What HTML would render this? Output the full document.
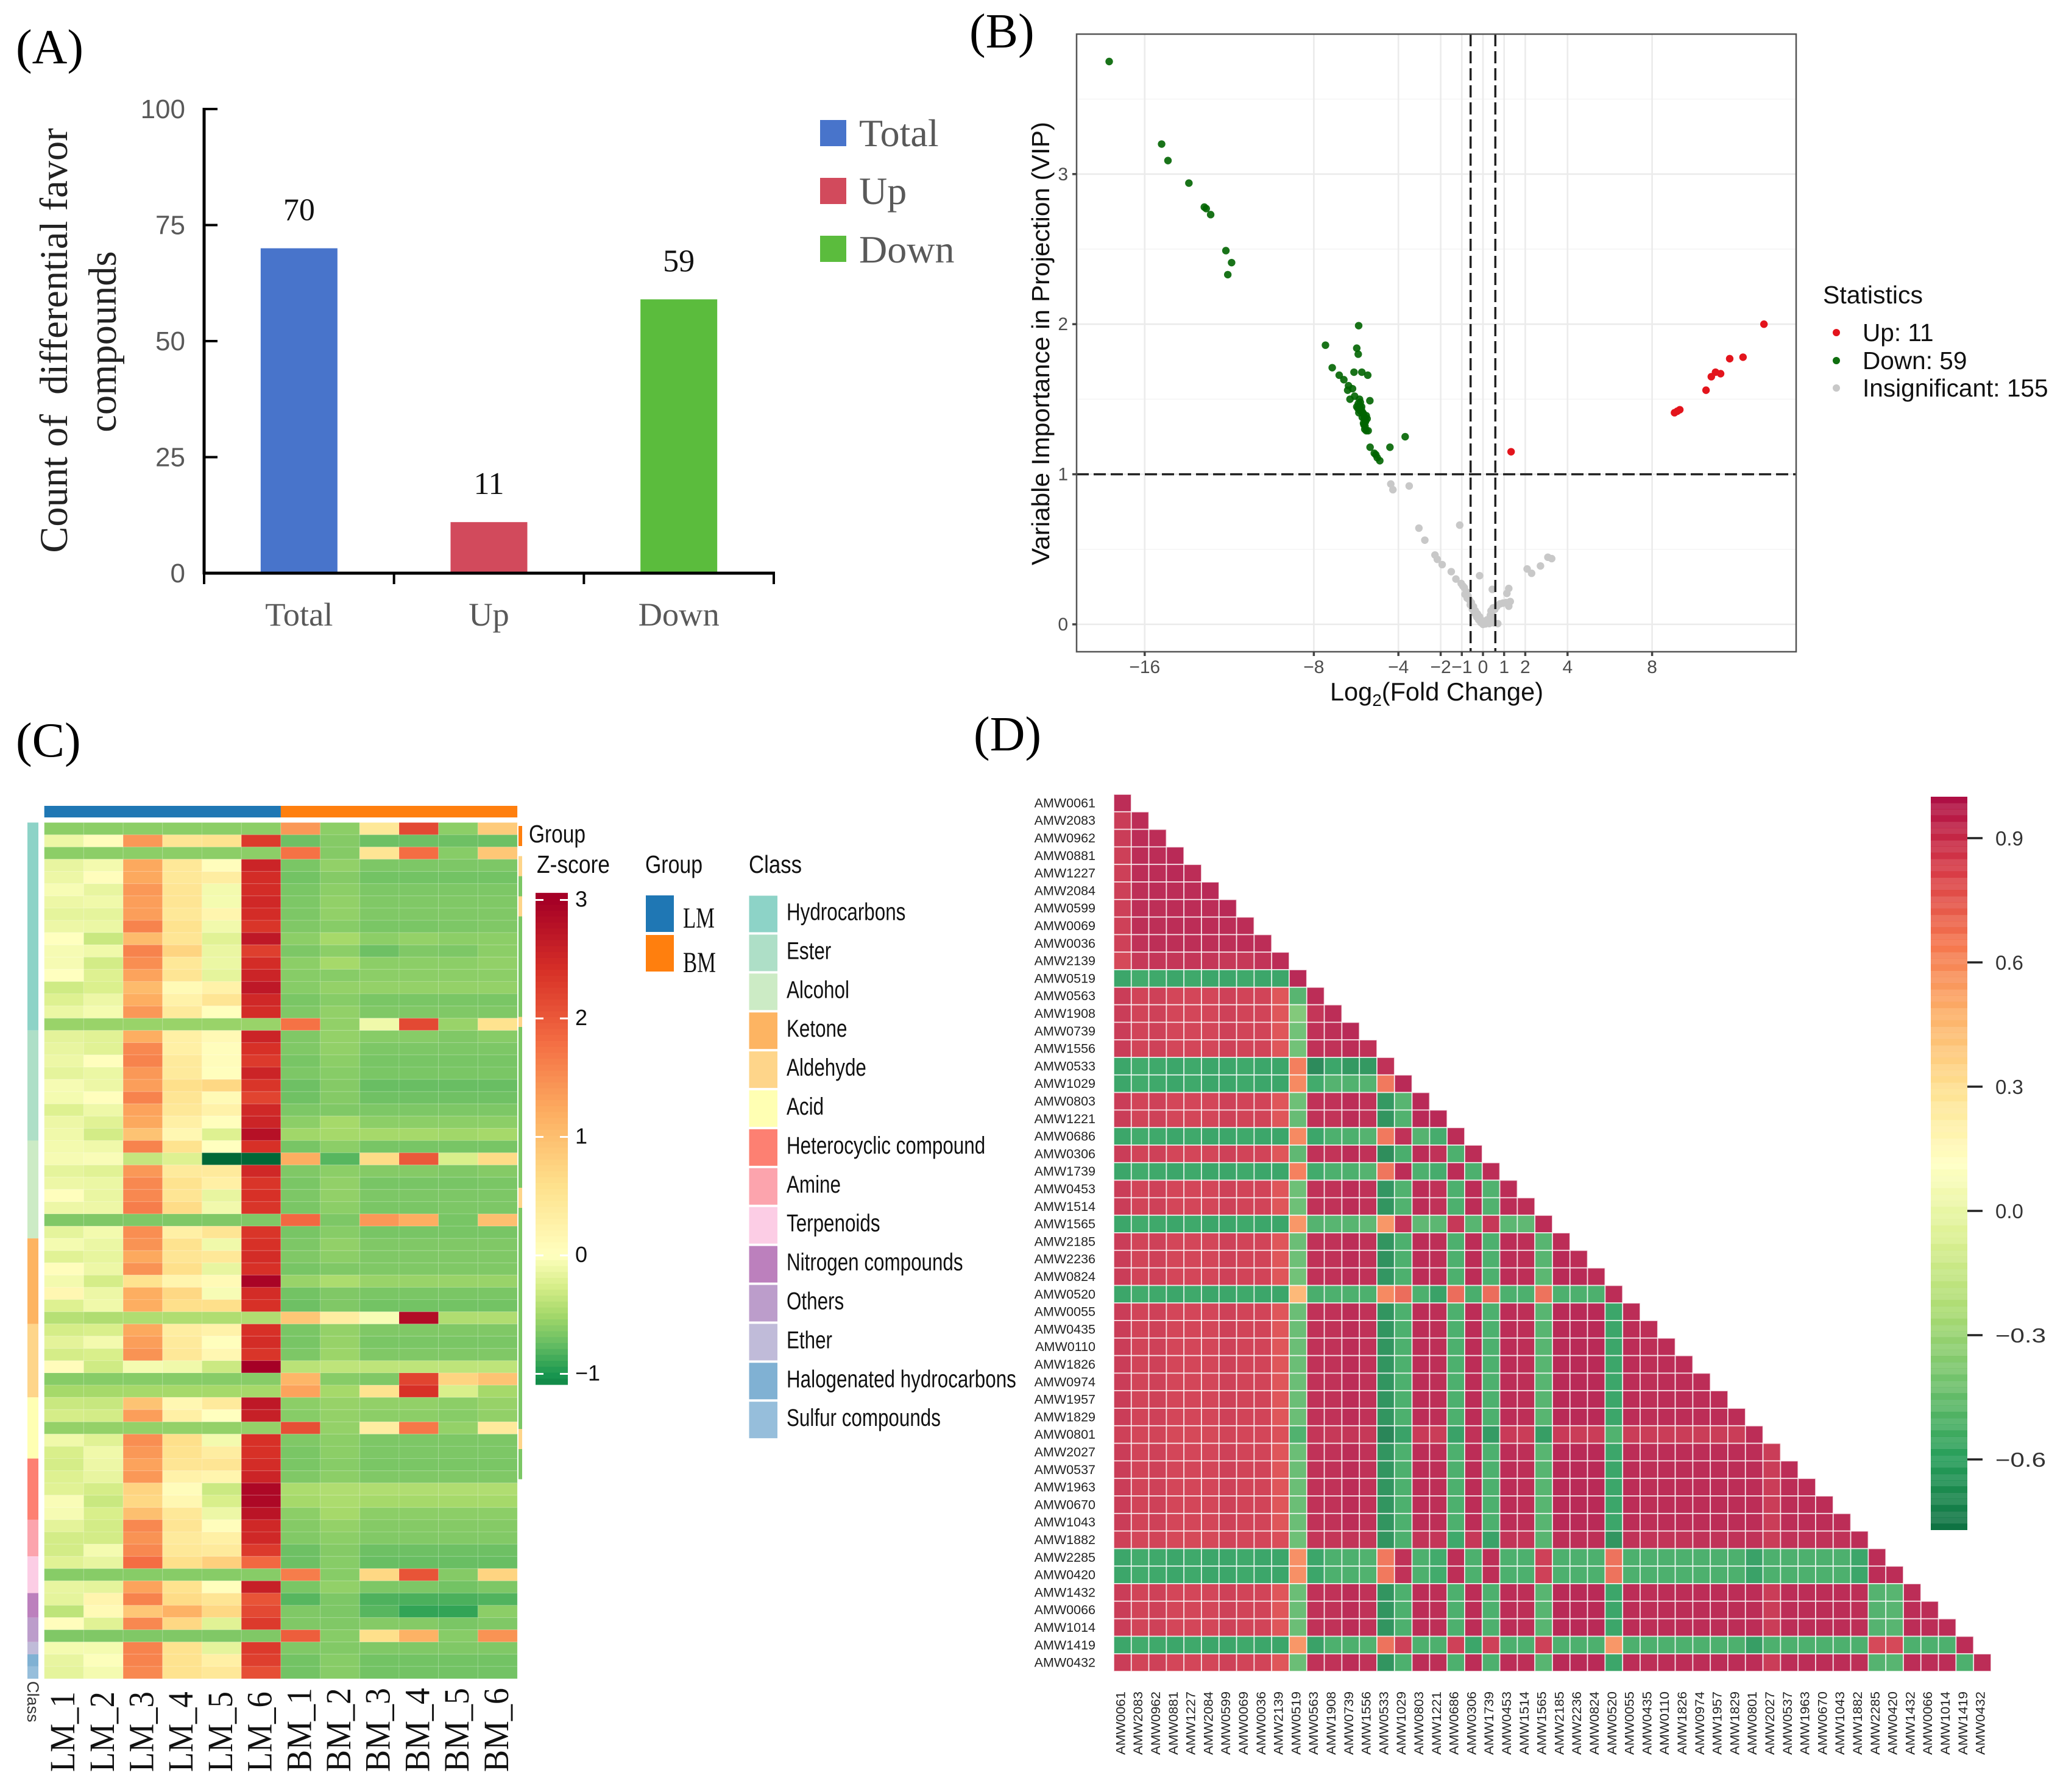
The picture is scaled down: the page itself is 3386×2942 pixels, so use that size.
<!DOCTYPE html>
<html lang="en">
<head>
<meta charset="utf-8">
<title>Differential favor compounds</title>
<style>
html,body{margin:0;padding:0;background:#fff;}
svg{display:block;}
text{font-family:"Liberation Sans",sans-serif;}
.serif{font-family:"Liberation Serif",serif;}
.panel-tag{font-family:"Liberation Serif",serif;font-size:80px;fill:#000;}
</style>
</head>
<body>
<svg id="root" xmlns="http://www.w3.org/2000/svg" width="3386" height="2942" viewBox="0 0 3386 2942">
<rect x="0" y="0" width="3386" height="2942" fill="#fff"/>
<text class="panel-tag" x="26" y="104">(A)</text>
<text class="panel-tag" x="1591" y="78">(B)</text>
<text class="panel-tag" x="26" y="1242">(C)</text>
<text class="panel-tag" x="1598" y="1232">(D)</text>

<g id="panelA">
<text class="serif" transform="translate(110,559) rotate(-90)" text-anchor="middle" font-size="64.5" fill="#222" style="white-space:pre">Count of  differential favor</text>
<text class="serif" transform="translate(190,561) rotate(-90)" text-anchor="middle" font-size="64.5" fill="#222">compounds</text>
<g>
<rect x="1346" y="197" width="43" height="43" fill="#4874cb"/>
<text class="serif" x="1410" y="240" font-size="64" fill="#595959">Total</text>
<rect x="1346" y="292" width="43" height="43" fill="#d24a5c"/>
<text class="serif" x="1410" y="335" font-size="64" fill="#595959">Up</text>
<rect x="1346" y="387" width="43" height="43" fill="#5bbc3d"/>
<text class="serif" x="1410" y="431" font-size="64" fill="#595959">Down</text>
</g>
</g>

<g id="panelB">
<text transform="translate(1722,564) rotate(-90)" text-anchor="middle" font-size="41" fill="#111" textLength="728" lengthAdjust="spacingAndGlyphs">Variable Importance in Projection (VIP)</text>
<text x="2358" y="1150" text-anchor="middle" font-size="41.5" fill="#111">Log<tspan font-size="28" dy="9">2</tspan><tspan dy="-9">(Fold Change)</tspan></text>
<g>
<text x="2992" y="498" font-size="41" fill="#111">Statistics</text>
<circle cx="3014" cy="546" r="6" fill="#e3141c"/>
<text x="3057" y="560" font-size="40.6" fill="#111">Up: 11</text>
<circle cx="3014" cy="592" r="6" fill="#0f6e0f"/>
<text x="3057" y="606" font-size="40.6" fill="#111">Down: 59</text>
<circle cx="3014" cy="637" r="6" fill="#c8c8c8"/>
<text x="3057" y="651" font-size="40.6" fill="#111">Insignificant: 155</text>
</g>
</g>

<g id="panelC">
<text x="868" y="1383" font-size="41" fill="#111" textLength="93" lengthAdjust="spacingAndGlyphs">Group</text>
<text x="881" y="1433" font-size="41" fill="#111" textLength="120" lengthAdjust="spacingAndGlyphs">Z-score</text>
<text x="1059" y="1433" font-size="41" fill="#111" textLength="94" lengthAdjust="spacingAndGlyphs">Group</text>
<text x="1229" y="1433" font-size="41" fill="#111" textLength="87" lengthAdjust="spacingAndGlyphs">Class</text>
<rect x="1060" y="1470" width="46" height="60" fill="#1f77b4"/>
<text class="serif" x="1121" y="1523" font-size="48" fill="#111" textLength="52" lengthAdjust="spacingAndGlyphs">LM</text>
<rect x="1060" y="1535" width="46" height="60" fill="#ff7f0e"/>
<text class="serif" x="1121" y="1596" font-size="48" fill="#111" textLength="54" lengthAdjust="spacingAndGlyphs">BM</text>
<text transform="translate(45,2760) rotate(90)" font-size="27" fill="#333">Class</text>
</g>

<g id="panelD"></g>
</svg>

<script>
// ---------- Panel A data ----------
const barCategories = ['Total', 'Up', 'Down'];
const barValues = [70, 11, 59];
const barTicks = [0, 25, 50, 75, 100];

// ---------- Panel B data: [log2FC, VIP] ----------
const downPoints = [[-17.68,3.75],[-15.2,3.2],[-14.9,3.09],[-13.91,2.94],[-13.18,2.78],[-13.09,2.77],[-12.88,2.73],[-12.16,2.49],[-11.89,2.41],[-12.07,2.33],[-5.88,1.99],[-7.45,1.86],[-5.97,1.84],[-5.9,1.8],[-7.13,1.71],[-6.8,1.66],[-6.58,1.63],[-6.1,1.68],[-5.73,1.68],[-5.45,1.66],[-6.36,1.59],[-6.17,1.57],[-6.4,1.56],[-6.07,1.52],[-6.29,1.5],[-5.35,1.49],[-5.84,1.5],[-5.9,1.47],[-5.82,1.46],[-5.97,1.45],[-5.74,1.45],[-5.78,1.42],[-5.87,1.41],[-5.65,1.4],[-5.52,1.39],[-5.71,1.38],[-5.61,1.37],[-5.48,1.37],[-5.65,1.34],[-5.56,1.35],[-5.52,1.29],[-5.43,1.29],[-5.59,1.3],[-5.34,1.18],[-4.4,1.18],[-3.68,1.25],[-5.14,1.14],[-5.07,1.13],[-5,1.11],[-4.88,1.09],[-5.8,1.48],[-5.75,1.43],[-5.68,1.41],[-5.6,1.38],[-5.55,1.36],[-5.63,1.33],[-5.58,1.32],[-5.92,1.44],[-5.85,1.43]];
const upPoints = [[1.33,1.15],[13.29,2.0],[12.3,1.78],[11.67,1.77],[11.24,1.67],[11.0,1.68],[10.8,1.65],[10.55,1.56],[9.31,1.43],[9.19,1.42],[9.06,1.41]];
const insignificantPoints = [[-4.36,0.935],[-4.26,0.897],[-3.49,0.922],[-3.03,0.641],[-2.75,0.561],[-1.1,0.661],[-2.27,0.462],[-2.16,0.433],[-1.93,0.398],[-1.5,0.351],[-1.28,0.302],[-1.03,0.272],[-0.16,0.324],[0.44,0.233],[1.22,0.239],[1.13,0.206],[1.29,0.152],[1.22,0.121],[2.09,0.369],[2.3,0.34],[2.72,0.389],[3.07,0.447],[3.25,0.438],[0.7,0.005],[-0.88,0.244],[-0.79,0.217],[-0.71,0.19],[-0.64,0.163],[-0.55,0.145],[-0.45,0.118],[-0.36,0.09],[-0.26,0.069],[-0.16,0.05],[-0.07,0.027],[0.03,0.009],[0.12,0.003],[0.22,0.014],[0.32,0.027],[0.41,0.072],[0.41,0.045],[0.56,0.1],[0.65,0.118],[0.8,0.136],[0.94,0.141],[1.09,0.145],[-0.95,0.255],[-0.85,0.2],[-0.75,0.175],[-0.6,0.13],[-0.5,0.1],[-0.4,0.075],[-0.3,0.05],[-0.2,0.03],[-0.1,0.012],[0.0,0.0],[0.1,0.02],[0.2,0.03],[0.3,0.005],[0.4,0.02],[0.5,0.01],[0.35,0.06],[0.38,0.09],[0.48,0.11]];
const volcanoXTicks = [-16, -8, -4, -2, -1, 0, 1, 2, 4, 8];
const volcanoYTicks = [0, 1, 2, 3];
const volcanoYMinor = [0.5, 1.5, 2.5, 3.5];
const fcThresholds = [-0.585, 0.585];
const vipThreshold = 1;

// ---------- Panel C data ----------
const sampleLabels = ['LM_1','LM_2','LM_3','LM_4','LM_5','LM_6','BM_1','BM_2','BM_3','BM_4','BM_5','BM_6'];
const zValues = [
[-.6,-.6,-.6,-.6,-.6,-.6,1.4,-.6,.45,2.15,-.6,.85],
[-.12,.05,1.4,.5,.55,2.3,-.72,-.63,-.72,-.72,-.72,-.72],
[-.6,-.6,-.6,-.6,-.6,-.6,1.75,-.63,.5,1.8,-.62,.9],
[-.15,-.08,1.25,.45,.03,2.55,-.67,-.58,-.66,-.66,-.66,-.66],
[-.12,.03,1.25,.45,.35,2.45,-.7,-.63,-.7,-.7,-.7,-.7],
[-.05,-.15,1.4,.5,-.08,2.45,-.67,-.6,-.66,-.66,-.66,-.66],
[-.12,-.1,1.35,.5,-.07,2.5,-.66,-.58,-.65,-.65,-.65,-.65],
[-.17,-.17,1.35,.45,.2,2.45,-.66,-.58,-.65,-.65,-.65,-.65],
[-.12,-.13,1.6,.55,-.09,2.35,-.65,-.62,-.67,-.67,-.66,-.65],
[0,-.33,1.05,.5,-.2,2.7,-.6,-.5,-.6,-.57,-.6,-.6],
[-.06,-.1,1.6,.75,-.14,2.25,-.66,-.6,-.72,-.65,-.66,-.6],
[-.06,-.28,1.5,.45,-.13,2.45,-.6,-.5,-.6,-.6,-.6,-.58],
[0,-.22,1.3,.5,-.17,2.55,-.62,-.62,-.6,-.6,-.6,-.6],
[-.3,-.24,1.05,.1,.25,2.7,-.62,-.57,-.57,-.57,-.57,-.57],
[-.22,-.12,1.2,.25,.5,2.5,-.67,-.62,-.67,-.67,-.67,-.67],
[-.13,-.07,1.4,.4,.02,2.45,-.65,-.58,-.65,-.65,-.65,-.65],
[-.55,-.55,-.55,-.55,-.55,-.55,1.75,-.58,-.1,2.15,-.55,.55],
[-.18,-.2,1.2,.3,.12,2.55,-.65,-.57,-.62,-.62,-.65,-.62],
[-.15,-.2,1.55,.3,.03,2.4,-.65,-.58,-.66,-.66,-.66,-.66],
[-.12,.02,1.6,.4,.05,2.3,-.68,-.6,-.68,-.68,-.68,-.68],
[-.17,-.13,1.4,.4,.02,2.55,-.66,-.62,-.67,-.67,-.67,-.67],
[-.06,-.12,1.35,.6,.7,2.35,-.72,-.63,-.74,-.74,-.74,-.74],
[-.07,.02,1.6,.5,.1,2.2,-.71,-.63,-.71,-.71,-.71,-.71],
[-.22,-.11,1.3,.45,.25,2.5,-.66,-.65,-.66,-.66,-.66,-.66],
[-.12,-.2,1.25,.3,.02,2.55,-.6,-.5,-.6,-.6,-.6,-.6],
[-.1,-.28,.95,.15,-.22,2.8,-.52,-.5,-.5,-.5,-.52,-.5],
[-.08,-.1,1.6,.55,0,2.4,-.68,-.6,-.68,-.68,-.68,-.68],
[-.06,-.04,-.35,-.22,-1.6,-1.6,1.2,-.8,.65,2,-.25,.65],
[-.17,-.2,1.4,.4,.4,2.5,-.65,-.6,-.63,-.63,-.65,-.63],
[-.12,-.13,1.55,.55,.3,2.35,-.67,-.58,-.68,-.68,-.68,-.67],
[.02,-.14,1.55,.5,-.15,2.4,-.66,-.58,-.66,-.66,-.66,-.66],
[-.12,-.12,1.65,.65,-.09,2.35,-.67,-.6,-.67,-.67,-.66,-.66],
[-.65,-.65,-.65,-.65,-.65,-.65,1.85,-.66,1.4,1.2,-.68,1],
[-.17,-.08,1.5,.3,.5,2.35,-.68,-.62,-.68,-.68,-.68,-.68],
[-.07,-.13,1.45,.55,-.1,2.4,-.66,-.58,-.65,-.65,-.65,-.65],
[-.2,-.16,1.25,.5,.45,2.45,-.65,-.6,-.65,-.65,-.65,-.65],
[.03,-.12,1.45,.6,-.15,2.4,-.68,-.65,-.65,-.65,-.65,-.65],
[-.08,-.27,.55,.2,.1,2.95,-.55,-.47,-.55,-.55,-.55,-.55],
[.15,-.12,1.2,.7,-.05,2.45,-.7,-.65,-.67,-.67,-.67,-.67],
[-.22,-.1,1.2,.6,.6,2.4,-.72,-.65,-.7,-.7,-.7,-.7],
[-.42,-.45,-.45,-.45,-.45,-.45,.9,.35,-.05,2.85,-.45,-.45],
[-.27,-.25,1.25,.35,.25,2.4,-.67,-.57,-.65,-.65,-.65,-.65],
[-.18,-.08,1.35,.4,.02,2.45,-.68,-.56,-.67,-.67,-.67,-.67],
[-.27,-.25,1.45,.45,.15,2.35,-.66,-.54,-.65,-.65,-.65,-.65],
[.05,-.3,-.07,-.1,-.32,3,-.4,-.38,-.38,-.38,-.38,-.38],
[-.62,-.62,-.62,-.62,-.62,-.62,1.1,-.62,-.65,2.2,.75,.95],
[-.5,-.5,-.5,-.5,-.5,-.5,1.3,-.5,.55,2.4,-.25,-.5],
[-.33,-.34,.95,.15,.4,2.7,-.6,-.56,-.58,-.58,-.6,-.56],
[-.27,-.28,1.35,.3,0,2.6,-.62,-.57,-.6,-.6,-.62,-.58],
[-.57,-.57,-.57,-.57,-.57,-.57,2.1,-.57,.35,1.7,-.57,.4],
[-.1,-.2,1.5,.6,-.08,2.4,-.65,-.6,-.66,-.66,-.66,-.66],
[-.25,-.1,1.4,.55,.35,2.4,-.67,-.6,-.66,-.66,-.66,-.66],
[-.27,-.12,1.3,.5,.5,2.45,-.67,-.62,-.67,-.67,-.67,-.67],
[-.22,-.15,1.4,.25,.2,2.55,-.65,-.6,-.65,-.65,-.65,-.65],
[-.2,-.27,.75,.05,-.32,2.9,-.47,-.45,-.45,-.45,-.45,-.45],
[-.04,-.33,.7,.15,-.25,2.9,-.5,-.47,-.5,-.5,-.5,-.5],
[-.06,-.25,1,.45,-.12,2.75,-.6,-.5,-.6,-.6,-.6,-.6],
[-.18,-.28,1.55,.5,.03,2.5,-.63,-.57,-.63,-.63,-.63,-.63],
[-.28,-.28,1.45,.4,.3,2.5,-.64,-.6,-.64,-.64,-.64,-.64],
[-.28,-.07,1.55,.45,.4,2.3,-.72,-.63,-.72,-.72,-.72,-.72],
[-.2,-.15,1.8,.6,.8,1.85,-.72,-.62,-.74,-.74,-.74,-.74],
[-.62,-.62,-.62,-.62,-.62,-.62,1.65,-.62,.7,2.05,-.63,.75],
[-.15,-.17,1.3,.55,.02,2.6,-.67,-.58,-.66,-.66,-.7,-.66],
[-.17,.2,1.6,.65,.5,2.05,-.8,-.66,-.83,-.84,-.84,-.82],
[-.38,.1,.9,1.15,.7,2.15,-.65,-.66,-.8,-.92,-.92,-.6],
[.03,-.2,1.55,.7,-.2,2.3,-.65,-.65,-.63,-.63,-.67,-.65],
[-.65,-.65,-.65,-.65,-.65,-.65,1.95,-.62,.6,1.15,-.62,1.45],
[-.07,-.07,1.6,.55,-.17,2.3,-.65,-.64,-.65,-.65,-.65,-.65],
[-.15,-.02,1.6,.55,.3,2.25,-.7,-.62,-.7,-.7,-.7,-.7],
[-.17,-.07,1.55,.55,.45,2.1,-.7,-.62,-.7,-.7,-.7,-.7]
];
const classNames = ['Hydrocarbons','Ester','Alcohol','Ketone','Aldehyde','Acid','Heterocyclic compound','Amine','Terpenoids','Nitrogen compounds','Others','Ether','Halogenated hydrocarbons','Sulfur compounds'];
const classRowCounts = [17,9,8,7,6,5,5,3,3,2,2,1,1,1];
const zTicks = [3,2,1,0,-1];
const stripCodes = [2,2,-1,1,1,0,0,1,1,0,0,0,0,0,0,0,0,0,0,1,0,0,0,0,0,0,0,0,0,0,0,0,0,0,0,0,1,1,0,0,0,0,0,0,0,0,0,0,0,0,0,0,0,0,0,0,0,0,0,0,1,1,0,0,0];

// ---------- Panel D data (correlation x100, lower triangle) ----------
const corrIds = ['AMW0061','AMW2083','AMW0962','AMW0881','AMW1227','AMW2084','AMW0599','AMW0069','AMW0036','AMW2139','AMW0519','AMW0563','AMW1908','AMW0739','AMW1556','AMW0533','AMW1029','AMW0803','AMW1221','AMW0686','AMW0306','AMW1739','AMW0453','AMW1514','AMW1565','AMW2185','AMW2236','AMW0824','AMW0520','AMW0055','AMW0435','AMW0110','AMW1826','AMW0974','AMW1957','AMW1829','AMW0801','AMW2027','AMW0537','AMW1963','AMW0670','AMW1043','AMW1882','AMW2285','AMW0420','AMW1432','AMW0066','AMW1014','AMW1419','AMW0432'];
const corrTicks = [0.9,0.6,0.3,0,-0.3,-0.6];
const corrProfileP = [90,87,88,86,86,86,88,87,87,80,-47,95,95,97,95,-68,-55,97,96,-55,97,-55,97,96,-52,98,98,98,-60,97,96,97,97,97,97,97,97,90,97,97,97,97,96,-53,-52,97,97,97,-55,97];
const corrProfileN = [-60,-58,-59,-60,-59,-60,-60,-59,-60,-60,60,-60,-55,-55,-54,68,95,-55,-58,96,-55,96,-55,-55,88,-55,-55,-55,70,-55,-55,-55,-55,-55,-55,-55,-62,-55,-55,-55,-55,-55,-60,97,97,-55,-55,-55,88,-55];
const corrRow0801 = [88,86,87,85,85,85,87,86,86,82,-54,93,92,93,92,-74,-62,91,90,-62,95,-65,91,90,-64,91,90,90,-54,90,90,90,90,90,90,90,97];
const corrRow1882 = [88,86,87,85,85,85,87,86,86,83,-46,93,93,94,93,-68,-55,94,93,-59,92,-62,94,93,-52,96,96,96,-68,95,94,94,94,95,95,95,95,90,95,95,95,95,97];
const corrRow1419 = [-60,-58,-59,-60,-59,-60,-60,-59,-60,-60,58,-62,-55,-55,-54,70,88,-55,-55,88,-60,88,-55,-55,88,-55,-55,-55,58,-55,-55,-55,-55,-55,-55,-55,-64,-55,-55,-55,-55,-55,-55,85,85,-55,-55,-55,97];
const corrUpper = [
[97],
[90,97],
[90,97,97],
[89,97,97,98],
[89,97,97,98,97],
[89,96,97,97,97,98],
[89,96,96,97,97,97,98],
[88,96,96,97,97,97,97,97],
[88,95,96,96,96,96,96,97,97],
[85,92,93,93,93,93,92,92,94,97],
[-60,-58,-59,-60,-59,-60,-60,-59,-60,-60,98],
[90,87,88,86,86,86,88,87,87,80,-52,97],
[90,87,88,86,86,86,88,87,87,80,-40,93,97],
[90,87,88,86,86,86,88,87,87,80,-45,95,96,98],
[90,87,88,86,86,86,88,87,87,80,-45,95,95,97,95],
[-60,-58,-59,-60,-59,-60,-60,-59,-60,-60,66,-72,-60,-66,-66,95],
[-60,-58,-59,-60,-59,-60,-60,-59,-60,-60,62,-58,-53,-54,-53,68,98],
[90,87,88,86,86,86,88,87,87,80,-46,95,95,97,95,-66,-52,98],
[90,87,88,86,86,86,88,87,87,80,-48,95,94,97,95,-68,-54,98,98],
[-60,-58,-59,-60,-59,-60,-60,-59,-60,-60,62,-60,-55,-55,-53,68,95,-53,-57,97],
[90,87,88,86,86,86,88,87,87,80,-50,95,94,97,95,-71,-56,97,95,-55,97],
[-60,-58,-59,-60,-59,-60,-60,-59,-60,-60,65,-58,-55,-55,-53,69,97,-55,-57,97,-55,97],
[90,87,88,86,86,86,88,87,87,80,-46,95,95,97,95,-67,-54,97,95,-55,97,-54,97],
[90,87,88,86,86,86,88,87,87,80,-46,95,95,97,95,-68,-54,97,95,-55,97,-54,97,96],
[-60,-58,-59,-60,-59,-60,-60,-59,-60,-60,58,-53,-52,-52,-50,58,93,-50,-51,92,-52,92,-51,-50,97],
[90,87,88,86,86,86,88,87,87,80,-47,95,95,97,95,-68,-55,97,96,-55,97,-55,97,96,-52,97],
[90,87,88,86,86,86,88,87,87,80,-46,95,95,97,95,-69,-55,97,96,-55,97,-55,97,96,-52,98,97],
[90,87,88,86,86,86,88,87,87,80,-45,95,95,97,95,-67,-55,97,96,-55,97,-55,97,96,-51,98,98,97],
[-60,-58,-59,-60,-59,-60,-60,-59,-60,-60,47,-56,-55,-55,-55,62,72,-55,-62,72,-56,72,-55,-55,70,-55,-55,-55,97]
];
const corrLowerSources = [corrProfileP,corrProfileP,corrProfileP,corrProfileP,corrProfileP,corrProfileP,corrProfileP,corrRow0801,corrProfileP,corrProfileP,corrProfileP,corrProfileP,corrProfileP,corrRow1882,corrProfileN,corrProfileN,corrProfileP,corrProfileP,corrProfileP,corrRow1419,corrProfileP];

// ---------- Colour definitions ----------
const barColors = ['#4874cb','#d24a5c','#5bbc3d'];
const classColors = ['#8dd3c7','#aedfc7','#ccebc5','#fdb462','#fed58a','#ffffb3','#fd8072','#fca4ad','#fccde5','#bc80bd','#bc9dcb','#c0bbd9','#80b1d3','#96bedb'];
const rdYlGn = ['#006837','#1a9850','#66bd63','#a6d96a','#d9ef8b','#ffffbf','#fee08b','#fdae61','#f46d43','#d73027','#a50026'];
const corrRamp = ['#006837','#1a9850','#66bd63','#a6d96a','#d9ef8b','#ffffbf','#fee08b','#fdae61','#f46d43','#d5303c','#a8003a'];
const SVGNS = 'http://www.w3.org/2000/svg';

function hexRgb(h){return [parseInt(h.slice(1,3),16),parseInt(h.slice(3,5),16),parseInt(h.slice(5,7),16)];}
function rampColor(t, ramp){
  t = Math.max(0, Math.min(1, t));
  const p = t * (ramp.length - 1);
  const i = Math.min(ramp.length - 2, Math.floor(p));
  const f = p - i;
  const a = hexRgb(ramp[i]);
  const b = hexRgb(ramp[i + 1]);
  return 'rgb(' + a.map((v, k) => Math.round(v + (b[k] - v) * f)).join(',') + ')';
}
function zColor(v){
  // 0..3 spans the warm half, -1.25..0 spans the cool half
  if (v >= 0) return rampColor(0.5 + 0.5 * v / 3, rdYlGn);
  return rampColor(0.5 + 0.5 * v / 1.25, rdYlGn);
}
function corrColor(v){return rampColor((v + 0.775) / 1.775, corrRamp);}

function mk(parent, tag, attrs, txt){
  const el = document.createElementNS(SVGNS, tag);
  for (const k in attrs) el.setAttribute(k, attrs[k]);
  if (txt !== undefined) el.textContent = txt;
  parent.appendChild(el);
  return el;
}

// ---------- Panel A ----------
(function(){
  const g = document.getElementById('panelA');
  const xA = i => 335 + (i + 0.5) * 311.67;
  const yA = v => 941 - 7.62 * v;
  barValues.forEach((v, i) => {
    const bar = mk(g, 'rect', {x: xA(i) - 63, y: yA(v), width: 126, height: yA(0) - yA(v), fill: barColors[i]});
    
    
    const val = mk(g, 'text', {x: xA(i), y: yA(v) - 46, 'text-anchor': 'middle', 'font-size': 52, fill: '#111', class: 'serif'}, String(v));
    
    
    const cat = mk(g, 'text', {x: xA(i), y: 1027, 'text-anchor': 'middle', 'font-size': 54.5, fill: '#595959', class: 'serif'}, barCategories[i]);
    
    
  });
  const yAxis = mk(g, 'line', {x1: 335, x2: 335, y1: yA(100) - 2, y2: yA(0) + 2, stroke: '#000', 'stroke-width': 5});
  
  
  const xAxis = mk(g, 'line', {x1: 333, x2: 1272, y1: yA(0), y2: yA(0), stroke: '#000', 'stroke-width': 5});
  
  
  barTicks.forEach(t => {
    const tick = mk(g, 'line', {x1: 335, x2: 357, y1: yA(t), y2: yA(t), stroke: '#000', 'stroke-width': 4});
    
    
    const lab = mk(g, 'text', {x: 304, y: yA(t) + 15, 'text-anchor': 'end', 'font-size': 44, fill: '#595959'}, String(t));
    
    
  });
  [0, 1, 2, 3].forEach(i => {
    const tick = mk(g, 'line', {x1: 335 + i * 311.67, x2: 335 + i * 311.67, y1: 941, y2: 959, stroke: '#000', 'stroke-width': 4});
    
    
  });
})();

// ---------- Panel B ----------
(function(){
  const g = document.getElementById('panelB');
  const xB = v => 2434 + 34.7 * v;
  const yB = v => 1025 - 246.4 * v;
  const L = 1767, R = 2948, T = 56, B = 1070;
  volcanoYMinor.forEach(v => {
    const ln = mk(g, 'line', {x1: L, x2: R, y1: yB(v), y2: yB(v), stroke: '#f4f4f4', 'stroke-width': 1.5});
    
    
  });
  volcanoYTicks.forEach(v => {
    const ln = mk(g, 'line', {x1: L, x2: R, y1: yB(v), y2: yB(v), stroke: '#ebebeb', 'stroke-width': 2.6});
    
    
  });
  volcanoXTicks.forEach(v => {
    const ln = mk(g, 'line', {x1: xB(v), x2: xB(v), y1: T, y2: B, stroke: '#ebebeb', 'stroke-width': 2.6});
    
    
  });
  insignificantPoints.forEach(p => {
    const c = mk(g, 'circle', {cx: xB(p[0]), cy: yB(p[1]), r: 6.2, fill: '#c8c8c8'});
    
    
  });
  downPoints.forEach(p => {
    const c = mk(g, 'circle', {cx: xB(p[0]), cy: yB(p[1]), r: 6.2, fill: '#006400', 'fill-opacity': 0.9});
    
    
  });
  upPoints.forEach(p => {
    const c = mk(g, 'circle', {cx: xB(p[0]), cy: yB(p[1]), r: 6.2, fill: '#e3141c'});
    
    
  });
  fcThresholds.forEach(v => {
    const ln = mk(g, 'line', {x1: xB(v), x2: xB(v), y1: T, y2: B, stroke: '#222', 'stroke-width': 3.5, 'stroke-dasharray': '20 8'});
    
    
  });
  const vip = mk(g, 'line', {x1: L, x2: R, y1: yB(vipThreshold), y2: yB(vipThreshold), stroke: '#222', 'stroke-width': 3.5, 'stroke-dasharray': '20 8'});
  
  
  const frame = mk(g, 'rect', {x: L, y: T, width: R - L, height: B - T, fill: 'none', stroke: '#555', 'stroke-width': 2.5});
  
  
  volcanoXTicks.forEach(v => {
    const tk = mk(g, 'line', {x1: xB(v), x2: xB(v), y1: B, y2: B + 7, stroke: '#444', 'stroke-width': 3.5});
    
    
    const lab = mk(g, 'text', {x: xB(v), y: 1105, 'text-anchor': 'middle', 'font-size': 30, fill: '#4d4d4d'}, String(v).replace('-', '\u2212'));
    
    
  });
  volcanoYTicks.forEach(v => {
    const tk = mk(g, 'line', {x1: L - 7, x2: L, y1: yB(v), y2: yB(v), stroke: '#444', 'stroke-width': 3.5});
    
    
    const lab = mk(g, 'text', {x: L - 14, y: yB(v) + 10, 'text-anchor': 'end', 'font-size': 30, fill: '#4d4d4d'}, String(v));
    
    
  });
})();

// ---------- Panel C ----------
(function(){
  const g = document.getElementById('panelC');
  const X0 = 72.7, Y0 = 1350.4, CW = 64.7, RH = 20.08;
  const grpLM = mk(g, 'rect', {x: X0, y: 1323, width: CW * 6, height: 19, fill: '#1f77b4'});
  
  
  const grpBM = mk(g, 'rect', {x: X0 + CW * 6, y: 1323, width: CW * 6, height: 19, fill: '#ff7f0e'});
  
  

  zValues.forEach((row, r) => {
    row.forEach((v, c) => {
      const cell = mk(g, 'rect', {x: X0 + c * CW, y: Y0 + r * RH, width: CW, height: RH, fill: zColor(v), stroke: '#fff', 'stroke-opacity': 0.14, 'stroke-width': 1.2});
      
      
    });
  });

  let rowStart = 0;
  classRowCounts.forEach((n, i) => {
    const seg = mk(g, 'rect', {x: 45, y: Y0 + rowStart * RH, width: 18, height: n * RH, fill: classColors[i]});
    
    
    rowStart += n;
    const sw = mk(g, 'rect', {x: 1229.5, y: 1470.5 + i * 63.9, width: 46.5, height: 60, fill: classColors[i]});
    
    
    const lab = mk(g, 'text', {transform: 'translate(1291,' + (1510.5 + i * 63.9) + ') scale(0.785,1)', 'font-size': 40, fill: '#111'}, classNames[i]);
    
    
  });

  stripCodes.forEach((code, i) => {
    if (code < 0) return;
    const fill = code === 2 ? '#ff7f0e' : (code === 1 ? '#fed58a' : '#7cc765');
    const s = mk(g, 'rect', {x: 851, y: 1356 + i * 16.5, width: 6, height: 16.5, fill: fill});
    
    
  });

  sampleLabels.forEach((name, i) => {
    const base = X0 + CW * (i + 0.5) + 17;
    const lab = mk(g, 'text', {transform: 'translate(' + base + ',2909) rotate(-90) scale(' + (i < 6 ? 0.91 : 0.93) + ',1)', 'font-size': 58, fill: '#111', class: 'serif'}, name);
    
    
  });

  const yZ = v => 2061 - 194.5 * v;
  const zStep = 0.05;
  for (let k = 0; k < 83; k++) {
    const top = 3.06 - k * zStep;
    const sl = mk(g, 'rect', {x: 879, y: yZ(top), width: 53, height: 194.5 * zStep + 0.6, fill: zColor(top - zStep / 2)});
    
    
  }
  zTicks.forEach(t => {
    const a = mk(g, 'line', {x1: 879, x2: 892, y1: yZ(t), y2: yZ(t), stroke: '#fff', 'stroke-width': 3});
    
    
    const b = mk(g, 'line', {x1: 919, x2: 932, y1: yZ(t), y2: yZ(t), stroke: '#fff', 'stroke-width': 3});
    
    
    const lab = mk(g, 'text', {x: 944, y: yZ(t) + 11, 'font-size': 36, fill: '#111'}, String(t).replace('-', '\u2212'));
    
    
  });
})();

// ---------- Panel D ----------
(function(){
  const g = document.getElementById('panelD');
  const X0 = 1828, Y0 = 1304, S = 28.8;
  const matrix = corrUpper.concat(corrLowerSources.map((src, k) => src.slice(0, 29 + k + 1)));
  matrix.forEach((row, r) => {
    row.forEach((v, c) => {
      const cell = mk(g, 'rect', {x: X0 + c * S, y: Y0 + r * S, width: S, height: S, fill: corrColor(v / 100), 'fill-opacity': 0.85, stroke: '#fff', 'stroke-opacity': 0.75, 'stroke-width': 1.8});
      
      
    });
  });
  corrIds.forEach((id, i) => {
    const yl = mk(g, 'text', {x: 1798, y: Y0 + (i + 0.5) * S + 7, 'text-anchor': 'end', 'font-size': 21.5, fill: '#222'}, id);
    
    
    const xl = mk(g, 'text', {transform: 'translate(' + (X0 + (i + 0.5) * S + 4) + ',2881) rotate(-90)', 'font-size': 21, fill: '#222', textLength: 104, lengthAdjust: 'spacingAndGlyphs'}, id);
    
    
  });
  const yC = v => 1988 - 680 * v;
  const cStep = 0.015;
  for (let k = 0; k < 118; k++) {
    const top = 1.0 - k * cStep;
    const sl = mk(g, 'rect', {x: 3169, y: yC(top), width: 60, height: 680 * cStep + 0.4, fill: corrColor(top - cStep / 2), 'fill-opacity': k % 3 === 0 ? 0.95 : 0.85});
    
    
  }
  corrTicks.forEach(t => {
    const tk = mk(g, 'line', {x1: 3229, x2: 3254, y1: yC(t), y2: yC(t), stroke: '#222', 'stroke-width': 3.5});
    
    
    const attrs = {x: 3275, y: yC(t) + 12, 'font-size': 33, fill: '#333'};
    if (t < 0) { attrs.textLength = 83; attrs.lengthAdjust = 'spacingAndGlyphs'; }
    const lab = mk(g, 'text', attrs, t.toFixed(1).replace('-', '\u2212'));
    
    
  });
})();
</script>
</body>
</html>
